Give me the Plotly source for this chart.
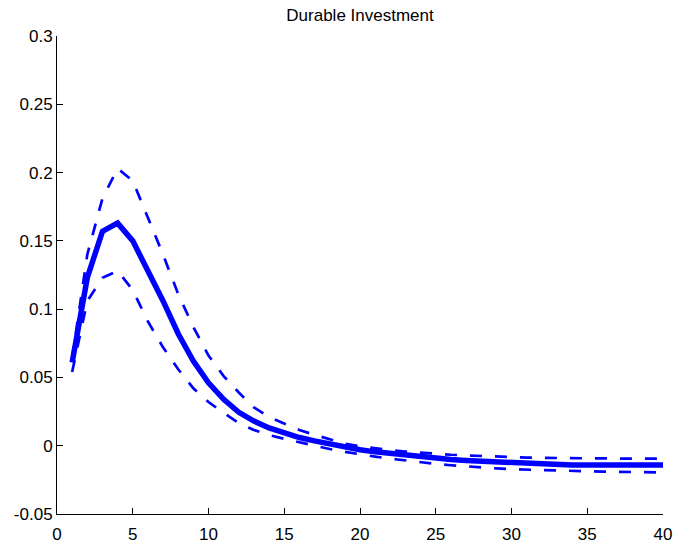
import plotly.graph_objects as go

periods = list(range(1, 41))
median = [0.061, 0.123, 0.157, 0.163, 0.150, 0.129, 0.106, 0.082, 0.062, 0.046,
          0.034, 0.0245, 0.018, 0.013, 0.009, 0.006, 0.0035, 0.0012, -0.001, -0.003,
          -0.0045, -0.0058, -0.0071, -0.0083, -0.0093, -0.0101, -0.0108, -0.0114, -0.0121, -0.0128,
          -0.0132, -0.0135, -0.0139, -0.0142, -0.0142, -0.0142, -0.0142, -0.0142, -0.0142, -0.0142]
upper = [0.064, 0.140, 0.181, 0.203, 0.194, 0.167, 0.140, 0.111, 0.087, 0.066,
         0.051, 0.039, 0.028, 0.021, 0.016, 0.0115, 0.008, 0.0045, 0.0015, -0.0005,
         -0.002, -0.0033, -0.0043, -0.0052, -0.006, -0.0066, -0.0071, -0.0076, -0.008, -0.0085,
         -0.0087, -0.0089, -0.0091, -0.0092, -0.0093, -0.0094, -0.0094, -0.0095, -0.0095, -0.0095]
lower = [0.054, 0.106, 0.123, 0.128, 0.114, 0.091, 0.072, 0.056, 0.042, 0.032,
         0.024, 0.0165, 0.0115, 0.0078, 0.005, 0.0024, 0.0, -0.0024, -0.0045, -0.0064,
         -0.008, -0.0095, -0.0109, -0.0121, -0.0133, -0.0143, -0.0152, -0.016, -0.0166, -0.0172,
         -0.0176, -0.0179, -0.0182, -0.0185, -0.0187, -0.0189, -0.0191, -0.0193, -0.0195, -0.0196]

x_ticks = [0, 5, 10, 15, 20, 25, 30, 35, 40]
y_ticks = [-0.05, 0, 0.05, 0.1, 0.15, 0.2, 0.25, 0.3]
y_tick_labels = ["-0.05", "0", "0.05", "0.1", "0.15", "0.2", "0.25", "0.3"]

blue = "#0000FF"
fig = go.Figure()
fig.add_trace(go.Scatter(x=periods, y=upper, mode="lines",
                         line=dict(color=blue, width=2.7, dash="12px,13px")))
fig.add_trace(go.Scatter(x=periods, y=lower, mode="lines",
                         line=dict(color=blue, width=2.7, dash="12px,13px")))
fig.add_trace(go.Scatter(x=periods, y=median, mode="lines",
                         line=dict(color=blue, width=5.5)))

font = dict(family="Liberation Sans, Arial, sans-serif", size=17, color="black")
fig.update_layout(
    width=677, height=544,
    margin=dict(l=57, r=14, t=36, b=30),
    paper_bgcolor="white", plot_bgcolor="white",
    showlegend=False,
    font=font,
    title=dict(text="Durable Investment", x=0.5, xref="paper", y=1 - 15 / 544,
               yref="container", yanchor="middle", xanchor="center",
               font=font),
)
fig.update_xaxes(range=[0, 40], tickvals=x_ticks, ticktext=[str(v) for v in x_ticks],
                 ticks="inside", ticklen=6, tickcolor="black", showline=True,
                 linecolor="black", linewidth=1, showgrid=False, zeroline=False,
                 tickfont=font, ticklabelstandoff=5, automargin=False)
fig.update_yaxes(range=[-0.05, 0.3], tickvals=y_ticks, ticktext=y_tick_labels,
                 ticks="inside", ticklen=6, tickcolor="black", showline=True,
                 linecolor="black", linewidth=1, showgrid=False, zeroline=False,
                 tickfont=font, automargin=False)
fig.write_html("out.html", config={"displayModeBar": False},
               post_script="document.body.style.margin='0';")
